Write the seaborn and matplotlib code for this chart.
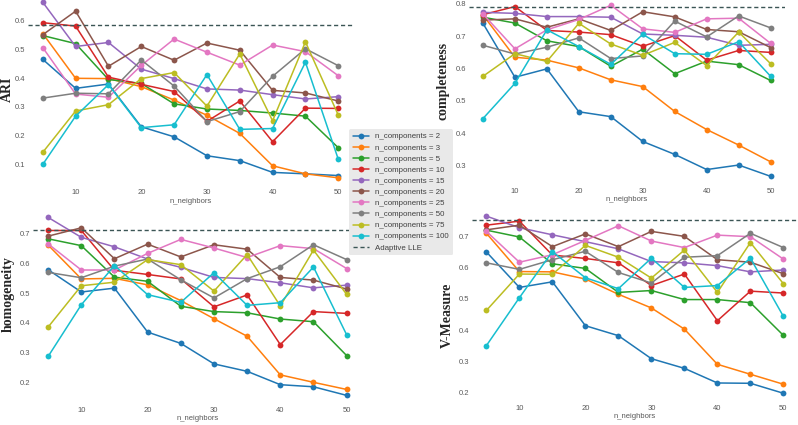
import numpy as np
import pandas as pd
from matplotlib import pyplot as plt
import seaborn as sns

n_neighbors = [5, 10, 15, 20, 25, 30, 35, 40, 45, 50]
n_components = [2, 3, 5, 10, 15, 20, 25, 50, 75, 100]

# one row per n_components, one column per n_neighbors
ari = [
    [0.465, 0.364, 0.379, 0.230, 0.195, 0.129, 0.112, 0.071, 0.066, 0.060],
    [0.555, 0.399, 0.398, 0.370, 0.323, 0.270, 0.207, 0.094, 0.066, 0.052],
    [0.548, 0.520, 0.395, 0.381, 0.310, 0.292, 0.287, 0.278, 0.267, 0.157],
    [0.593, 0.581, 0.403, 0.378, 0.353, 0.249, 0.320, 0.178, 0.295, 0.294],
    [0.664, 0.510, 0.524, 0.431, 0.398, 0.362, 0.358, 0.342, 0.327, 0.335],
    [0.551, 0.633, 0.441, 0.510, 0.462, 0.522, 0.497, 0.357, 0.348, 0.320],
    [0.506, 0.344, 0.333, 0.444, 0.536, 0.490, 0.445, 0.515, 0.492, 0.408],
    [0.330, 0.347, 0.345, 0.463, 0.372, 0.248, 0.283, 0.406, 0.502, 0.443],
    [0.141, 0.285, 0.307, 0.398, 0.419, 0.302, 0.484, 0.251, 0.526, 0.271],
    [0.099, 0.267, 0.377, 0.227, 0.237, 0.412, 0.221, 0.224, 0.455, 0.117],
]
completeness = [
    [0.740, 0.573, 0.599, 0.466, 0.451, 0.374, 0.334, 0.287, 0.301, 0.266],
    [0.766, 0.635, 0.626, 0.602, 0.565, 0.544, 0.467, 0.411, 0.363, 0.311],
    [0.759, 0.741, 0.686, 0.668, 0.607, 0.660, 0.584, 0.623, 0.612, 0.563],
    [0.767, 0.792, 0.718, 0.713, 0.705, 0.669, 0.702, 0.626, 0.656, 0.650],
    [0.774, 0.771, 0.761, 0.761, 0.759, 0.707, 0.703, 0.697, 0.672, 0.675],
    [0.750, 0.754, 0.728, 0.754, 0.718, 0.776, 0.760, 0.721, 0.714, 0.665],
    [0.769, 0.661, 0.720, 0.752, 0.796, 0.723, 0.712, 0.754, 0.756, 0.678],
    [0.672, 0.645, 0.666, 0.695, 0.631, 0.639, 0.747, 0.698, 0.763, 0.726],
    [0.576, 0.646, 0.622, 0.740, 0.676, 0.641, 0.681, 0.609, 0.713, 0.615],
    [0.445, 0.554, 0.720, 0.668, 0.613, 0.706, 0.646, 0.644, 0.683, 0.576],
]
homogeneity = [
    [0.579, 0.504, 0.517, 0.369, 0.331, 0.262, 0.237, 0.192, 0.185, 0.156],
    [0.662, 0.548, 0.550, 0.528, 0.475, 0.414, 0.355, 0.225, 0.200, 0.176],
    [0.683, 0.660, 0.554, 0.540, 0.456, 0.438, 0.434, 0.413, 0.404, 0.290],
    [0.711, 0.711, 0.577, 0.563, 0.548, 0.454, 0.494, 0.327, 0.438, 0.432],
    [0.755, 0.688, 0.656, 0.615, 0.587, 0.553, 0.549, 0.535, 0.518, 0.527],
    [0.692, 0.720, 0.616, 0.665, 0.622, 0.663, 0.648, 0.553, 0.544, 0.514],
    [0.666, 0.578, 0.578, 0.634, 0.681, 0.652, 0.620, 0.660, 0.650, 0.583],
    [0.570, 0.552, 0.591, 0.615, 0.545, 0.484, 0.549, 0.589, 0.663, 0.613],
    [0.386, 0.525, 0.537, 0.613, 0.596, 0.507, 0.630, 0.457, 0.645, 0.496],
    [0.287, 0.461, 0.593, 0.495, 0.469, 0.569, 0.459, 0.468, 0.588, 0.360],
]
v_measure = [
    [0.651, 0.537, 0.555, 0.414, 0.382, 0.308, 0.277, 0.230, 0.229, 0.197],
    [0.711, 0.588, 0.587, 0.564, 0.515, 0.471, 0.403, 0.290, 0.258, 0.226],
    [0.721, 0.699, 0.613, 0.598, 0.521, 0.527, 0.498, 0.498, 0.488, 0.383],
    [0.737, 0.750, 0.641, 0.630, 0.616, 0.543, 0.580, 0.430, 0.525, 0.519],
    [0.766, 0.729, 0.706, 0.684, 0.661, 0.620, 0.616, 0.607, 0.587, 0.593],
    [0.722, 0.737, 0.668, 0.709, 0.668, 0.717, 0.701, 0.626, 0.618, 0.581],
    [0.717, 0.618, 0.642, 0.688, 0.735, 0.686, 0.665, 0.705, 0.700, 0.628],
    [0.616, 0.595, 0.626, 0.653, 0.585, 0.551, 0.634, 0.639, 0.711, 0.665],
    [0.463, 0.580, 0.579, 0.672, 0.634, 0.567, 0.657, 0.521, 0.681, 0.549],
    [0.350, 0.504, 0.652, 0.568, 0.533, 0.631, 0.537, 0.543, 0.631, 0.444],
]
# score of the Adaptive LLE baseline, per metric
adaptive_lle = {'ARI': 0.586, 'completeness': 0.792,
                'homogeneity': 0.7135, 'V-Measure': 0.752}

sns.set_style('white')
plt.rcParams['font.family'] = 'sans-serif'
plt.rcParams['font.sans-serif'] = ['Liberation Sans', 'DejaVu Sans']


def to_long(scores):
    rows = []
    for comp, vals in zip(n_components, scores):
        for k, v in zip(n_neighbors, vals):
            rows.append({'n_neighbors': k,
                         'label': 'n_components = {}'.format(comp),
                         'score': v})
    return pd.DataFrame(rows)


fig = plt.figure(figsize=(7.98, 4.25), dpi=100)

# name, data, axes rect, ylim, ylabel position (axes coords)
panels = [
    ('ARI', ari, [0.0351, 0.5609, 0.4073, 0.4546], (0.0214, 0.695), (-0.042, 0.505)),
    ('completeness', completeness, [0.5872, 0.5642, 0.3965, 0.4435], (0.2385, 0.8225), (-0.059, 0.555)),
    ('homogeneity', homogeneity, [0.0416, 0.0480, 0.4115, 0.4607], (0.125, 0.784), (-0.056, 0.567)),
    ('V-Measure', v_measure, [0.5909, 0.0539, 0.4094, 0.4576], (0.1686, 0.7934), (-0.053, 0.448)),
]

palette = sns.color_palette('tab10', len(n_components))
handles = None

for name, scores, rect, ylim, lab_pos in panels:
    ax = fig.add_axes(rect)
    sns.lineplot(data=to_long(scores), x='n_neighbors', y='score', hue='label',
                 palette=palette, marker='o', markersize=4.2,
                 markeredgewidth=0, linewidth=1.1, legend=False, ax=ax)
    ax.axhline(adaptive_lle[name], color='#3b5555', linestyle='--',
               linewidth=1.0, dashes=(3, 2), label='Adaptive LLE')
    ax.set_ylim(ylim)
    ax.set_xticks([10, 20, 30, 40, 50])
    ax.tick_params(labelsize=5.5, labelcolor='0.35', length=0, pad=1.8)
    ax.set_xlabel('n_neighbors', fontsize=5.5, color='0.35', labelpad=1)
    ax.set_ylabel(name, fontsize=10, fontweight='bold',
                  family=['Liberation Serif', 'DejaVu Serif'])
    ax.yaxis.set_label_coords(*lab_pos)
    sns.despine(ax=ax, left=True, bottom=True)
    if handles is None:
        handles = ax.get_lines()

labels = ['n_components = {}'.format(c) for c in n_components] + ['Adaptive LLE']
leg = fig.legend(handles, labels, loc='upper left',
                 bbox_to_anchor=(0.4373, 0.6965), fontsize=5.7,
                 labelspacing=0.45, handlelength=2.0, frameon=True,
                 facecolor='#e9e9e9', edgecolor='none', framealpha=1,
                 borderpad=0.5, handletextpad=0.8, borderaxespad=0)
for t in leg.get_texts():
    t.set_color('0.25')

plt.savefig('out.png', dpi=100)
